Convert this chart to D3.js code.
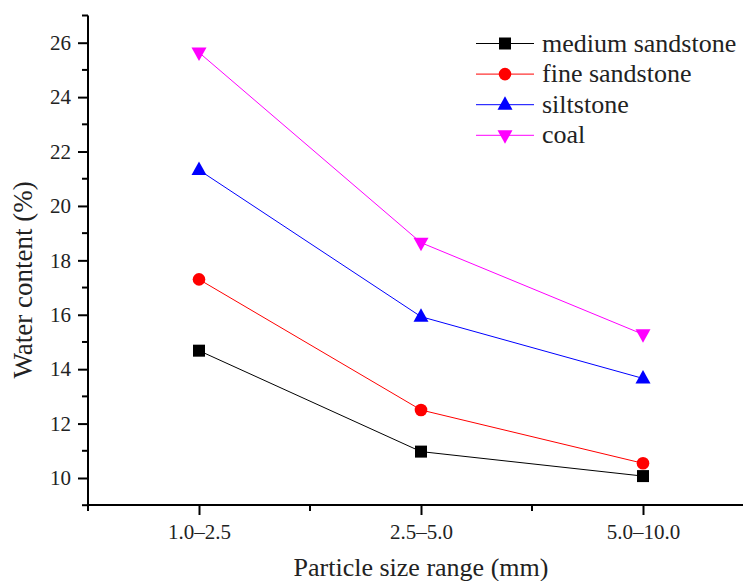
<!DOCTYPE html>
<html>
<head>
<meta charset="utf-8">
<script src="https://cdn.jsdelivr.net/npm/d3@7"></script>
<style>
  html, body { margin: 0; padding: 0; background: #fff; }
  svg { display: block; }
  svg text { font-family: 'Liberation Serif', 'Tinos', 'Times New Roman', 'DejaVu Serif', serif !important; fill: #222; }
</style>
</head>
<body>
<svg id="chart" width="743" height="581"></svg>
<script>
// Particle size ranges (x categories)
const categories = ["1.0\u20132.5", "2.5\u20135.0", "5.0\u201310.0"];

// Water content (%) for each rock type
const mediumSandstone = [14.68, 10.97, 10.07];
const fineSandstone   = [17.30, 12.50, 10.54];
const siltstone       = [21.32, 15.93, 13.66];
const coal            = [25.64, 18.65, 15.28];

const seriesNames = ["medium sandstone", "fine sandstone", "siltstone", "coal"];
const yTickValues = [10, 12, 14, 16, 18, 20, 22, 24, 26];

const series = [
  { name: seriesNames[0], values: mediumSandstone, color: "#000000", symbol: "square" },
  { name: seriesNames[1], values: fineSandstone,   color: "#ff0000", symbol: "circle" },
  { name: seriesNames[2], values: siltstone,       color: "#0000ff", symbol: "up" },
  { name: seriesNames[3], values: coal,            color: "#ff00ff", symbol: "down" }
];

const svg = d3.select("#chart");

const x = d3.scaleLinear().domain([-0.5, 2.5]).range([88, 754]);
const y = d3.scaleLinear().domain([9, 27]).range([505.2, 15.5]);

// Marker shapes
function symbolPath(kind) {
  if (kind === "square") return d3.symbol(d3.symbolSquare, 144)();
  if (kind === "circle") return d3.symbol(d3.symbolCircle, 125)();
  if (kind === "up") return "M0,-8.5L7.5,5L-7.5,5Z";
  return "M0,8.5L7.5,-5L-7.5,-5Z";
}

// Y axis: major ticks every 2, minor ticks at odd values
const yAxisG = svg.append("g").attr("transform", "translate(88,0)");
yAxisG.append("line")
  .attr("x1", 0).attr("x2", 0).attr("y1", y(27)).attr("y2", y(9))
  .attr("stroke", "#000").attr("stroke-width", 2);
const yMinor = d3.range(9, 28, 2);
yAxisG.selectAll(".minor").data(yMinor).join("line")
  .attr("x1", -6).attr("x2", 0)
  .attr("y1", d => y(d)).attr("y2", d => y(d))
  .attr("stroke", "#000").attr("stroke-width", 2);
const yAxis = d3.axisLeft(y).tickValues(yTickValues).tickSize(10).tickPadding(7);
const yg = svg.append("g").attr("transform", "translate(88,0)").call(yAxis);
yg.attr("font-family", null).attr("font-size", 21);
yg.select(".domain").remove();
yg.selectAll(".tick line").attr("stroke", "#000").attr("stroke-width", 2);

// X axis: categories at integer positions, minor ticks halfway between
const xAxisG = svg.append("g").attr("transform", "translate(0,505)");
xAxisG.append("line")
  .attr("x1", x(-0.5)).attr("x2", x(2.5)).attr("y1", 0).attr("y2", 0)
  .attr("stroke", "#000").attr("stroke-width", 2);
xAxisG.selectAll(".minor").data([-0.5, 0.5, 1.5, 2.5]).join("line")
  .attr("x1", d => x(d)).attr("x2", d => x(d)).attr("y1", 0).attr("y2", 6)
  .attr("stroke", "#000").attr("stroke-width", 2);
const xAxis = d3.axisBottom(x).tickValues([0, 1, 2])
  .tickFormat(i => categories[i]).tickSize(10).tickPadding(9);
const xg = svg.append("g").attr("transform", "translate(0,505)").call(xAxis);
xg.attr("font-family", null).attr("font-size", 21);
xg.select(".domain").remove();
xg.selectAll(".tick line").attr("stroke", "#000").attr("stroke-width", 2);

// Axis titles
svg.append("text")
  .attr("x", 421).attr("y", 576)
  .attr("text-anchor", "middle").attr("font-size", 26)
  .text("Particle size range (mm)");
svg.append("text")
  .attr("transform", "translate(32,280) rotate(-90)")
  .attr("text-anchor", "middle").attr("font-size", 27)
  .text("Water content (%)");

// Lines and markers
const line = d3.line().x((d, i) => x(i)).y(d => y(d));
const plot = svg.append("g");
series.forEach(s => {
  plot.append("path")
    .attr("d", line(s.values))
    .attr("fill", "none").attr("stroke", s.color).attr("stroke-width", 1);
});
series.forEach(s => {
  plot.selectAll(null).data(s.values).join("path")
    .attr("transform", (d, i) => `translate(${x(i)},${y(d)})`)
    .attr("d", symbolPath(s.symbol))
    .attr("fill", s.color);
});

// Legend
const legend = svg.append("g");
series.forEach((s, i) => {
  const cy = 43.5 + i * 30.6;
  legend.append("line")
    .attr("x1", 476).attr("x2", 534).attr("y1", cy).attr("y2", cy)
    .attr("stroke", s.color).attr("stroke-width", 1);
  legend.append("path")
    .attr("transform", `translate(505,${cy})`)
    .attr("d", symbolPath(s.symbol))
    .attr("fill", s.color);
  legend.append("text")
    .attr("x", 542).attr("y", cy + 8)
    .attr("font-size", 26)
    .text(s.name);
});
</script>
</body>
</html>
